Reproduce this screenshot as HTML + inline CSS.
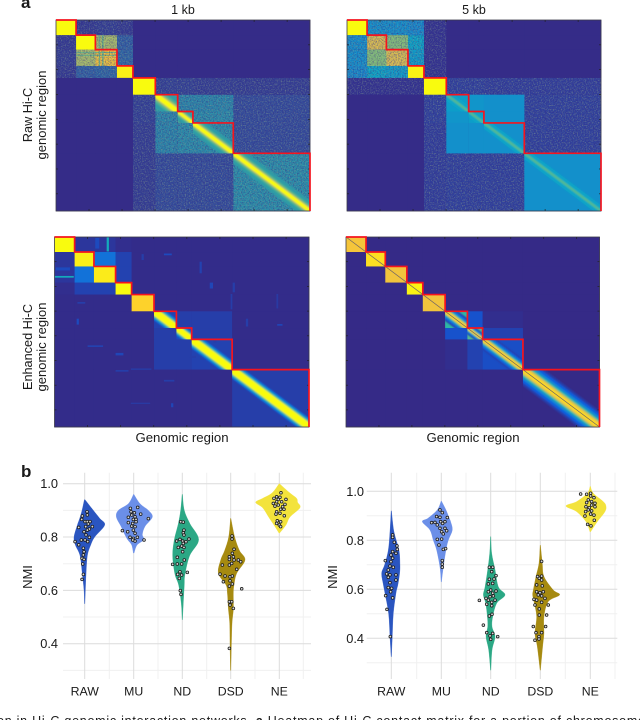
<!DOCTYPE html>
<html><head><meta charset="utf-8"><title>Hi-C heatmaps and NMI violins</title>
<style>
html,body{margin:0;padding:0;background:#fff;width:640px;height:720px;overflow:hidden}
svg{display:block}
text{font-family:"Liberation Sans",sans-serif;fill:#1a1a1a}
</style></head>
<body>
<svg id="fig" width="640" height="720" viewBox="0 0 640 720" xmlns="http://www.w3.org/2000/svg">
<defs>
<filter id="soften" x="-5%" y="-5%" width="110%" height="110%"><feGaussianBlur stdDeviation="0.7"/></filter>
<filter id="grain" x="0" y="0" width="100%" height="100%" color-interpolation-filters="sRGB">
<feTurbulence type="fractalNoise" baseFrequency="0.75" numOctaves="2" seed="3" result="n1"/>
<feColorMatrix in="n1" type="matrix" values="0 0 0 0 .208  0 0 0 0 .165  0 0 0 0 .53  1.5 0 0 0 -.62" result="dark"/>
<feTurbulence type="fractalNoise" baseFrequency="0.75" numOctaves="2" seed="8" result="n2"/>
<feColorMatrix in="n2" type="matrix" values="0 0 0 0 .55  0 0 0 0 .65  0 0 0 0 .55  1.5 0 0 0 -.72" result="light"/>
<feMerge result="m"><feMergeNode in="SourceGraphic"/><feMergeNode in="dark"/><feMergeNode in="light"/></feMerge>
<feComposite in="m" in2="SourceGraphic" operator="in"/>
</filter>
</defs>
<text x="21" y="8" font-size="17" font-weight="bold">a</text>
<text x="21" y="477" font-size="17" font-weight="bold">b</text>
<text x="183" y="14" font-size="12.5" text-anchor="middle">1 kb</text>
<text x="474" y="14" font-size="12.5" text-anchor="middle">5 kb</text>
<text transform="translate(32,115) rotate(-90)" font-size="12.7" text-anchor="middle">Raw Hi-C</text>
<text transform="translate(46,115) rotate(-90)" font-size="13" text-anchor="middle">genomic region</text>
<text transform="translate(32,347) rotate(-90)" font-size="12.7" text-anchor="middle">Enhanced Hi-C</text>
<text transform="translate(46,347) rotate(-90)" font-size="13" text-anchor="middle">genomic region</text>
<text x="182" y="442" font-size="13.2" text-anchor="middle">Genomic region</text>
<text x="473" y="442" font-size="13.2" text-anchor="middle">Genomic region</text>
<text transform="translate(32,577) rotate(-90)" font-size="13" text-anchor="middle">NMI</text>
<text transform="translate(337,577) rotate(-90)" font-size="13" text-anchor="middle">NMI</text>
<text x="-3" y="725" font-size="12.5" textLength="648" lengthAdjust="spacing">on in Hi-C genomic interaction networks. <tspan font-weight="bold">a</tspan> Heatmap of Hi-C contact matrix for a portion of chromosome</text>
<g id="heatmaps"></g>
<g id="violins"></g>
</svg>
<script>
// ---------- heatmap data ----------
const domainEdges = [0,79,155,240,303,391,479,539,698,1000];
const tickUnits = [130,260,390,520,650,780,910];
// upper-triangle block intensity per domain pair
const raw1kLevels = [
 [1,.05,.06,.05,.005,.005,.005,.005,.005],
 [1,.68,.16,.005,.005,.005,.005,.005],
 [.84,.18,.005,.005,.005,.005,.005],
 [.97,.005,.005,.005,.005,.005],
 [1,.07,.07,.06,.06],
 [.42,.3,.3,.1],
 [.45,.33,.1],
 [.33,.1],
 [.34]];
const raw5kLevels = [
 [1,.3,.3,.28,.03,.005,.005,.005,.005],
 [.78,.62,.38,.03,.005,.005,.005,.005],
 [.78,.35,.03,.005,.005,.005,.005],
 [.98,.03,.005,.005,.005,.005],
 [1,.08,.08,.07,.07],
 [.35,.32,.3,.08],
 [.35,.3,.08],
 [.3,.08],
 [.3]];
const enh1kLevels = [
 [1,.03,.03,.01,.005,.005,.005,.005,.005],
 [.97,.2,.06,.005,.005,.005,.005,.005],
 [.96,.06,.005,.005,.005,.005,.005],
 [1,.005,.005,.005,.005,.005],
 [.9,.005,.005,.005,.005],
 [.06,.05,.05,.005],
 [.08,.05,.005],
 [.06,.005],
 [.05]];
const enh5kLevels = [
 [.85,0,0,0,0,0,0,0,0],
 [.93,0,0,0,0,0,0,0],
 [.84,0,0,0,0,0,0],
 [.98,0,0,0,0,0],
 [.84,0,0,0,0],
 [.5,.1,.01,0],
 [.55,.06,0],
 [.09,0],
 [0]];
// [half-width in genomic units, intensity] drawn from wide to narrow
const raw1kBand = [[55,.4],[32,.52],[20,.7],[12,1]];
const raw5kBand = [[30,.38],[8,.55]];
const enh1kBand = [[48,.18],[38,.38],[30,.6],[23,1]];
const enh5kBand = [[85,.05],[70,.13],[55,.25],[42,.42],[32,.62],[24,.82],[14,.92]];
const raw1kBandScale = [0,0,0,0,0,1.3,.8,1,1];
const raw5kBandScale = [0,0,0,0,0,1,1,1,1];
const enh1kBandScale = [0,0,0,0,0,1,.85,1,1];
const enh5kBandScale = [0,0,0,0,0,.6,.4,.65,1];
// extra structure: [x0,x1,y0,y1,intensity], mirrored across the diagonal
const raw1kPatches = [[79,240,168,172,.55],[79,240,182,186,.5]];
const raw5kPatches = [];
const enh1kPatches = [[205,213,0,75,.42],[160,175,5,60,.08],[570,578,130,190,.06],[610,622,240,270,.07],[700,708,240,290,.05],[90,120,342,350,.05],[87,95,430,460,.08],[300,380,692,698,.05],[625,635,530,555,.05],[752,760,430,470,.05],[458,466,875,895,.07],[300,375,872,878,.04]];
const enh5kPatches = [];

const raw5kStops = [[53,42,135],[45,80,170],[25,130,205],[10,164,200],[46,183,164],[135,191,119],[209,187,89],[254,200,50],[249,251,14]];
const parulaStops = [[53,42,135],[15,92,221],[20,129,214],[6,164,202],[46,183,164],[135,191,119],[209,187,89],[254,200,50],[249,251,14]];
const mutedStops = [[53,42,135],[50,85,160],[42,125,170],[40,150,170],[70,178,150],[135,191,119],[209,187,89],[254,200,50],[249,251,14]];

const heatPanels = [
 {id:'raw-1kb',x0:56,x1:310,y0:20,y1:211,levels:raw1kLevels,band:raw1kBand,scale:raw1kBandScale,patches:raw1kPatches,stops:mutedStops,center:false,grainy:true,smoothFrom:99},
 {id:'raw-5kb',x0:347,x1:601,y0:20,y1:211,levels:raw5kLevels,band:raw5kBand,scale:raw5kBandScale,patches:raw5kPatches,stops:raw5kStops,center:false,grainy:true,smoothFrom:5},
 {id:'enhanced-1kb',x0:54.5,x1:309,y0:237,y1:427,levels:enh1kLevels,band:enh1kBand,scale:enh1kBandScale,patches:enh1kPatches,stops:parulaStops,center:false,grainy:false,smoothFrom:99},
 {id:'enhanced-5kb',x0:346,x1:599.5,y0:237,y1:427,levels:enh5kLevels,band:enh5kBand,scale:enh5kBandScale,patches:enh5kPatches,stops:parulaStops,center:true,grainy:false,smoothFrom:99}
];

// ---------- violin data ----------
const categories = ['RAW','MU','ND','DSD','NE'];
const violinColors = ['#2a55c0','#6b8fe8','#2ba885','#a68a10','#f3e33c'];
const yTicksMajor = [1.0,0.8,0.6,0.4];
const yTicksMinor = [0.9,0.7,0.5,0.3];

// density outline: value, left extent, right extent (relative density units)
const leftRawProfile = [[.94,1,1],[.90,8,26],[.87,15,45],[.845,22,60],[.80,32,30],[.77,28,18],[.73,14,8],[.66,7,4],[.60,2,2],[.55,.5,.5]];
const leftMuProfile = [[.96,.5,.5],[.925,16,19],[.90,46,44],[.875,52,56],[.84,38,34],[.81,27,26],[.79,18,30],[.77,6,10],[.74,1,1]];
const leftNdProfile = [[.96,.5,.5],[.90,5,6],[.85,12,23],[.79,24,49],[.73,29,22],[.66,22,8],[.62,11,6],[.55,3,3],[.49,.5,.5]];
const leftDsdProfile = [[.87,.5,.5],[.80,6,12],[.75,18,26],[.714,30,43],[.664,37,18],[.62,14,10],[.59,10,8],[.53,7,8],[.476,3,4],[.39,2,2],[.30,.5,.5]];
const leftNeProfile = [[1.0,.5,.5],[.965,22,32],[.945,50,52],[.93,71,55],[.91,50,62],[.875,32,32],[.845,16,20],[.815,1,1]];
const rightRawProfile = [[.92,.5,.5],[.835,4,8],[.76,9,23],[.70,20,26],[.665,29,25],[.62,24,20],[.584,19,14],[.50,8,6],[.407,4,3],[.325,.5,.5]];
const rightMuProfile = [[.96,.5,.5],[.924,12,14],[.89,40,24],[.876,57,28],[.842,34,33],[.80,24,21],[.76,14,14],[.69,4,6],[.63,.5,.5]];
const rightNdProfile = [[.815,.5,.5],[.747,3,3],[.68,9,13],[.61,17,23],[.577,22,43],[.543,15,18],[.488,10,6],[.447,9,4],[.407,14,13],[.352,6,4],[.27,.5,.5]];
const rightDsdProfile = [[.78,.5,.5],[.706,4,6],[.652,13,11],[.597,21,39],[.577,23,58],[.55,19,24],[.488,11,11],[.42,16,11],[.366,9,7],[.27,.5,.5]];
const rightNeProfile = [[1.02,.5,.5],[.992,9,9],[.958,41,39],[.94,73,47],[.917,41,44],[.876,13,21],[.835,1,1]];

// sample points: jitter offset, NMI value
const leftRawPoints = [[-7,.879],[7,.895],[8,.883],[-9,.866],[1,.858],[8,.858],[16,.858],[11,.849],[23,.839],[14,.83],[3,.839],[8,.826],[-2,.82],[4,.808],[14,.799],[1,.789],[-10,.789],[9,.783],[-4,.758],[-2,.745],[-4,.733],[-8,.72],[-2,.716],[-6,.699],[-4,.66],[-8,.641],[-29,.783],[-18,.771],[-18,.836]];
const leftMuPoints = [[-10,.9075],[12,.911],[-8,.895],[2,.891],[21,.886],[-6,.8825],[4,.876],[-16,.874],[-1,.866],[7,.866],[44,.869],[-16,.854],[-3,.851],[7,.8575],[-6,.841],[4,.839],[-34,.824],[-18,.82],[-1,.826],[4,.814],[-11,.799],[-1,.795],[11,.799],[31,.789],[4,.785],[-3,.789]];
const leftNdPoints = [[-5,.8575],[3,.856],[5,.826],[3,.816],[5,.8075],[20,.7925],[-7,.791],[-17,.785],[1,.785],[11,.7825],[3,.776],[-12,.761],[-2,.766],[5,.761],[1,.745],[-15,.724],[6,.714],[-29,.6975],[-15,.699],[-2,.699],[-7,.67],[-14,.66],[15,.6675],[-2,.6575],[-9,.645],[-6,.599],[-4,.585]];
const leftDsdPoints = [[4,.804],[4,.7925],[10,.754],[5,.739],[-4,.726],[8,.726],[-4,.716],[10,.714],[23,.714],[30,.7075],[-25,.695],[-4,.695],[3,.701],[18,.679],[-32,.661],[-17,.654],[-2,.651],[5,.654],[-22,.6325],[-2,.636],[-4,.616],[5,.624],[33,.606],[-4,.5575],[3,.5575],[-2,.545],[8,.5325],[-4,.3825]];
const leftNePoints = [[5,.966],[-8,.951],[2,.949],[-16,.945],[-3,.941],[20,.941],[-8,.9325],[7,.9325],[-18,.926],[-3,.92],[17,.9225],[-13,.916],[10,.914],[4,.904],[14,.904],[-8,.895],[-10,.886],[2,.889],[15,.88],[-6,.861],[4,.8575],[-8,.851],[0,.845],[4,.839]];
const rightRawPoints = [[4,.822],[4,.812],[9,.792],[17,.777],[18,.763],[4,.754],[14,.747],[-1,.74],[4,.727],[-18,.717],[-1,.713],[-4,.695],[6,.69],[-9,.679],[14,.659],[-14,.663],[-4,.659],[-9,.649],[14,.638],[-4,.627],[-9,.607],[1,.604],[-2,.59],[-17,.574],[4,.565],[-13,.518],[-3,.407]];
const rightMuPoints = [[-4,.924],[3,.913],[-14,.897],[-4,.894],[18,.893],[-29,.872],[-19,.873],[-2,.876],[11,.876],[-12,.863],[4,.869],[-4,.849],[11,.849],[1,.835],[16,.839],[6,.826],[-12,.804],[1,.805],[-7,.781],[6,.763],[13,.766],[3,.717],[3,.703],[3,.69]];
const rightNdPoints = [[-4,.69],[6,.69],[3,.672],[16,.656],[-4,.641],[10,.642],[-7,.622],[6,.624],[0,.597],[-7,.59],[16,.593],[6,.584],[-2,.57],[8,.573],[-14,.563],[-34,.555],[-7,.556],[13,.556],[3,.547],[-12,.539],[3,.533],[4,.498],[-4,.491],[-22,.454],[-12,.423],[6,.42],[-2,.41],[21,.407],[0,.396]];
const rightDsdPoints = [[4,.714],[-8,.652],[4,.654],[-3,.645],[4,.638],[-11,.618],[6,.614],[-11,.59],[-1,.586],[9,.59],[-6,.577],[4,.573],[-19,.559],[14,.563],[-11,.556],[4,.547],[-16,.536],[24,.536],[-3,.52],[-3,.495],[19,.495],[-21,.448],[16,.448],[-13,.423],[4,.423],[-4,.407],[-16,.392],[-4,.397]];
const rightNePoints = [[-29,.989],[-11,.988],[1,.992],[1,.981],[11,.974],[-6,.965],[4,.958],[-11,.954],[14,.951],[4,.944],[-13,.937],[-3,.933],[14,.937],[-6,.924],[4,.92],[-14,.917],[1,.907],[11,.903],[-16,.899],[12,.882],[-8,.865],[2,.859]];

const violinPanels = [
 {id:'left',x0:63,x1:311,y0:472.7,y1:679,v1:483.7,v04:643.7,centers:[84.7,133.7,182.3,230.7,279.3],minorX:[109.3,158,206.7,255,303.3],labelX:58,
  profiles:[leftRawProfile,leftMuProfile,leftNdProfile,leftDsdProfile,leftNeProfile],points:[leftRawPoints,leftMuPoints,leftNdPoints,leftDsdPoints,leftNePoints]},
 {id:'right',x0:366.7,x1:617.3,y0:472.7,y1:679,v1:491.3,v04:638.3,centers:[391.3,441.3,490.7,540.3,590.3],minorX:[416.7,466,515.7,565.3,615],labelX:364,
  profiles:[rightRawProfile,rightMuProfile,rightNdProfile,rightDsdProfile,rightNeProfile],points:[rightRawPoints,rightMuPoints,rightNdPoints,rightDsdPoints,rightNePoints]}
];

// ---------- helpers ----------
const NS='http://www.w3.org/2000/svg';
function mk(parent,tag,attrs){
  const el=document.createElementNS(NS,tag);
  for(const k in attrs) el.setAttribute(k,attrs[k]);
  parent.appendChild(el);
  return el;
}
function colormap(t,stops){
  const f=Math.max(0,Math.min(1,t))*(stops.length-1);
  const i=Math.min(stops.length-2,Math.floor(f)),u=f-i;
  const c=stops[i].map((a,j)=>Math.round(a+(stops[i+1][j]-a)*u));
  return 'rgb('+c.join(',')+')';
}
function smoothSide(pts){
  let d='';
  for(let i=0;i<pts.length-1;i++){
    const p0=pts[Math.max(0,i-1)],p1=pts[i],p2=pts[i+1],p3=pts[Math.min(pts.length-1,i+2)];
    d+=' C'+(p1[0]+(p2[0]-p0[0])/6)+' '+(p1[1]+(p2[1]-p0[1])/6)+' '+(p2[0]-(p3[0]-p1[0])/6)+' '+(p2[1]-(p3[1]-p1[1])/6)+' '+p2[0]+' '+p2[1];
  }
  return d;
}

// ---------- draw heatmaps ----------
const hRoot=document.getElementById('heatmaps');
const defs=mk(hRoot,'defs',{});
heatPanels.forEach(p=>{
  const sx=v=>p.x0+(p.x1-p.x0)*v/1000;
  const sy=v=>p.y0+(p.y1-p.y0)*v/1000;
  const col=t=>colormap(t,p.stops);
  const g=mk(hRoot,'g',{});
  
  
  const rr=(x0,x1,y0,y1,l,noGrain)=>{
    const r=mk(g,'rect',{x:sx(x0),y:sy(y0),width:sx(x1)-sx(x0)+.2,height:sy(y1)-sy(y0)+.2,fill:col(l)});
    
    
    if(p.grainy && !noGrain && l>.02 && l<.9) r.setAttribute('filter','url(#grain)');
    return r;
  };
  rr(0,1000,0,1000,0);
  p.levels.forEach((row,i)=>row.forEach((l,k)=>{
    const j=i+k;
    const smooth=i>=p.smoothFrom && j>=p.smoothFrom && !(l<.2);
    rr(domainEdges[j],domainEdges[j+1],domainEdges[i],domainEdges[i+1],l,smooth);
    if(j!==i) rr(domainEdges[i],domainEdges[i+1],domainEdges[j],domainEdges[j+1],l,smooth);
  }));
  p.patches.forEach(q=>{
    rr(q[0],q[1],q[2],q[3],q[4]);
    rr(q[2],q[3],q[0],q[1],q[4]);
  });
  p.scale.forEach((s,i)=>{
    if(!s) return;
    const a=domainEdges[i],b=domainEdges[i+1];
    const cid='clip-'+p.id+'-'+i;
    const cp=mk(defs,'clipPath',{id:cid});
    mk(cp,'rect',{x:sx(a),y:sy(a),width:sx(b)-sx(a),height:sy(b)-sy(a)});
    const bg=mk(g,'g',{'clip-path':'url(#'+cid+')'});
    const soft=mk(bg,'g',{filter:'url(#soften)'});
    p.band.forEach(layer=>{
      const w=layer[0]*s;
      const pts=[[a-w,a-w],[a,a-w],[b+w,b],[b+w,b+w],[b,b+w],[a-w,a]].map(c=>sx(c[0])+','+sy(c[1])).join(' ');
      const poly=mk(soft,'polygon',{points:pts,fill:col(layer[1])});
      
      
    });
  });
  if(p.center){
    const l=mk(g,'line',{x1:sx(0),y1:sy(0),x2:sx(1000),y2:sy(1000),stroke:'#6d6268','stroke-width':.7});
    
    
  }
  let d='M'+sx(domainEdges[0])+' '+sy(domainEdges[0]);
  for(let i=0;i<domainEdges.length-1;i++){
    d+=' L'+sx(domainEdges[i+1])+' '+sy(domainEdges[i]);
    d+=' L'+sx(domainEdges[i+1])+' '+sy(domainEdges[i+1]);
  }
  const frame=mk(g,'rect',{x:p.x0,y:p.y0,width:p.x1-p.x0,height:p.y1-p.y0,fill:'none',stroke:'#3c3c4a','stroke-width':.8});
  
  
  tickUnits.forEach(t=>{
    [[sx(t),p.y0,sx(t),p.y0+2],[sx(t),p.y1,sx(t),p.y1-2],[p.x0,sy(t),p.x0+2,sy(t)],[p.x1,sy(t),p.x1-2,sy(t)]].forEach(c=>{
      const tk=mk(g,'line',{x1:c[0],y1:c[1],x2:c[2],y2:c[3],stroke:'#222','stroke-width':.7});
      
      
    });
  });
  const red=mk(g,'path',{d:d,fill:'none',stroke:'#f5141e','stroke-width':1.7,'stroke-linejoin':'miter'});
  
  
});

// ---------- draw violins ----------
const vRoot=document.getElementById('violins');
violinPanels.forEach(p=>{
  const sy=v=>p.v1+(p.v04-p.v1)*(1-v)/0.6;
  const g=mk(vRoot,'g',{});
  
  
  yTicksMinor.forEach(v=>{
    const l=mk(g,'line',{x1:p.x0,x2:p.x1,y1:sy(v),y2:sy(v),stroke:'#f0f0f0','stroke-width':1});
    
    
  });
  p.minorX.forEach(x=>{
    const l=mk(g,'line',{x1:x,x2:x,y1:p.y0,y2:p.y1,stroke:'#f0f0f0','stroke-width':1});
    
    
  });
  yTicksMajor.forEach(v=>{
    const l=mk(g,'line',{x1:p.x0,x2:p.x1,y1:sy(v),y2:sy(v),stroke:'#dcdcdc','stroke-width':1});
    
    
    const t=mk(g,'text',{x:p.labelX,y:sy(v)+4.5,'font-size':12.8,'text-anchor':'end'});
    
    
    t.textContent=v.toFixed(1);
  });
  p.centers.forEach((x,i)=>{
    const l=mk(g,'line',{x1:x,x2:x,y1:p.y0,y2:p.y1,stroke:'#dcdcdc','stroke-width':1});
    
    
    const t=mk(g,'text',{x:x,y:695.5,'font-size':12.3,'text-anchor':'middle'});
    
    
    t.textContent=categories[i];
  });
  p.centers.forEach((cx,i)=>{
    const prof=p.profiles[i];
    const rightSide=prof.map(r=>[cx+r[2]/3,sy(r[0])]);
    const leftSide=prof.slice().reverse().map(r=>[cx-r[1]/3,sy(r[0])]);
    const d='M'+rightSide[0][0]+' '+rightSide[0][1]+smoothSide(rightSide)+' L'+leftSide[0][0]+' '+leftSide[0][1]+smoothSide(leftSide)+' Z';
    const shape=mk(g,'path',{d:d,fill:violinColors[i],stroke:violinColors[i],'stroke-width':.3,'stroke-linejoin':'round'});
    
    
    p.points[i].forEach(pt=>{
      const c=mk(g,'circle',{cx:cx+pt[0]/3,cy:sy(pt[1]),r:1.35,fill:'#d8d8d8',stroke:'#1c1c1c','stroke-width':.8});
      
      
    });
  });
});
</script>
</body></html>
